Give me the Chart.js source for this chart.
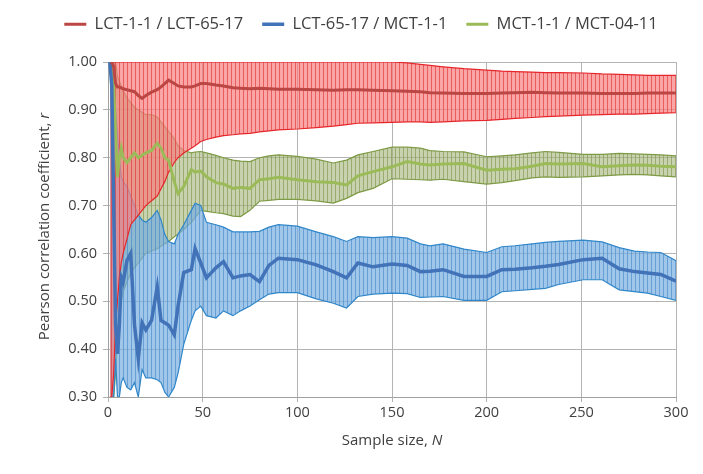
<!DOCTYPE html>
<html lang="en">
<head>
  <meta charset="utf-8">
  <title>Pearson correlation coefficient vs sample size</title>
  <script src="https://cdn.jsdelivr.net/npm/chart.js"></script>
  <style>
    html, body { margin: 0; padding: 0; background: #fff; }
    #wrap { width: 703px; height: 474px; }
  </style>
</head>
<body>
<div id="wrap"><canvas id="corrChart" width="703" height="474"></canvas></div>

<script>
  const sampleSizes = [1, 2, 3, 4, 5, 6, 7, 8, 10, 12, 14, 16, 18, 20, 23, 26, 28, 30, 32, 35, 37, 40,
    44, 46, 49, 52, 57, 61, 66, 70, 75, 80, 85, 90, 100, 110, 119, 126, 132, 140, 150, 158, 165, 170,
    177, 188, 200, 208, 215, 224, 231, 238, 251, 261, 270, 278, 285, 292, 300];

  const seriesNames = ['LCT-1-1 / LCT-65-17', 'LCT-65-17 / MCT-1-1', 'MCT-1-1 / MCT-04-11'];

  // LCT-1-1 / LCT-65-17
  const redMean = [1.0, 1.0, 0.99, 0.955, 0.948, 0.948, 0.946, 0.944, 0.942, 0.94, 0.938, 0.93, 0.924, 0.93,
    0.937, 0.942, 0.948, 0.955, 0.962, 0.955, 0.95, 0.948, 0.948, 0.95, 0.955, 0.955, 0.952, 0.95, 0.946,
    0.945, 0.944, 0.945, 0.944, 0.943, 0.943, 0.942, 0.941, 0.942, 0.942, 0.941, 0.94, 0.939, 0.938, 0.936,
    0.935, 0.934, 0.934, 0.935, 0.936, 0.937, 0.936, 0.935, 0.935, 0.934, 0.934, 0.934, 0.935, 0.935, 0.935];
  const redUpper = [1, 1, 1, 1, 1, 1, 1, 1, 1, 1, 1, 1, 1, 1, 1, 1, 1, 1, 1, 1, 1, 1, 1, 1, 1, 1, 1, 1, 1,
    1, 1, 1, 1, 1, 1, 1, 1, 1, 1, 1, 1, 0.998, 0.995, 0.993, 0.99, 0.986, 0.983, 0.981, 0.98, 0.979, 0.978,
    0.978, 0.977, 0.975, 0.974, 0.973, 0.972, 0.972, 0.972];
  const redLower = [0.3, 0.3, 0.35, 0.45, 0.5, 0.55, 0.58, 0.6, 0.63, 0.66, 0.67, 0.68, 0.69, 0.7, 0.71,
    0.72, 0.735, 0.75, 0.77, 0.79, 0.8, 0.81, 0.82, 0.825, 0.834, 0.838, 0.843, 0.846, 0.848, 0.85, 0.851,
    0.854, 0.856, 0.858, 0.86, 0.863, 0.866, 0.869, 0.872, 0.873, 0.874, 0.875, 0.875, 0.874, 0.875, 0.877,
    0.878, 0.88, 0.882, 0.884, 0.886, 0.887, 0.889, 0.89, 0.891, 0.891, 0.892, 0.893, 0.894];

  // LCT-65-17 / MCT-1-1
  const blueMean = [1.0, 0.95, 0.7, 0.45, 0.39, 0.45, 0.55, 0.54, 0.585, 0.6, 0.45, 0.38, 0.455, 0.44,
    0.46, 0.53, 0.46, 0.455, 0.45, 0.43, 0.49, 0.56, 0.566, 0.61, 0.58, 0.549, 0.57, 0.583, 0.549, 0.553,
    0.556, 0.541, 0.575, 0.59, 0.587, 0.576, 0.562, 0.549, 0.58, 0.572, 0.578, 0.575, 0.562, 0.563, 0.566,
    0.552, 0.552, 0.566, 0.567, 0.57, 0.573, 0.577, 0.587, 0.59, 0.568, 0.562, 0.559, 0.556, 0.542];
  const blueUpper = [1.0, 1.0, 1.0, 0.9, 0.85, 0.8, 0.76, 0.75, 0.74, 0.72, 0.7, 0.68, 0.67, 0.665, 0.675,
    0.69, 0.67, 0.64, 0.625, 0.62, 0.64, 0.66, 0.69, 0.705, 0.7, 0.665, 0.66, 0.655, 0.645, 0.645, 0.645,
    0.646, 0.655, 0.66, 0.657, 0.645, 0.635, 0.625, 0.635, 0.633, 0.635, 0.632, 0.62, 0.616, 0.62, 0.609,
    0.602, 0.614, 0.616, 0.62, 0.623, 0.625, 0.628, 0.624, 0.612, 0.605, 0.603, 0.602, 0.585];
  const blueLower = [0.3, 0.3, 0.3, 0.38, 0.3, 0.3, 0.33, 0.34, 0.32, 0.315, 0.33, 0.3, 0.357, 0.34, 0.34,
    0.336, 0.33, 0.31, 0.3, 0.32, 0.35, 0.41, 0.46, 0.48, 0.49, 0.47, 0.465, 0.48, 0.47, 0.48, 0.49, 0.503,
    0.515, 0.518, 0.518, 0.505, 0.496, 0.486, 0.51, 0.515, 0.517, 0.516, 0.508, 0.509, 0.51, 0.502, 0.502,
    0.52, 0.522, 0.525, 0.527, 0.535, 0.545, 0.545, 0.524, 0.52, 0.517, 0.51, 0.502];

  // MCT-1-1 / MCT-04-11
  const greenMean = [1.0, 1.0, 0.95, 0.85, 0.76, 0.8, 0.82, 0.8, 0.79, 0.8, 0.81, 0.8, 0.805, 0.81, 0.815,
    0.83, 0.82, 0.8, 0.795, 0.75, 0.725, 0.74, 0.775, 0.77, 0.772, 0.76, 0.748, 0.745, 0.736, 0.738, 0.736,
    0.754, 0.756, 0.759, 0.754, 0.75, 0.748, 0.743, 0.762, 0.771, 0.781, 0.792, 0.787, 0.785, 0.787, 0.788,
    0.774, 0.776, 0.777, 0.782, 0.788, 0.787, 0.788, 0.781, 0.783, 0.785, 0.784, 0.782, 0.781];
  const greenUpper = [1.0, 1.0, 1.0, 1.0, 0.97, 0.96, 0.95, 0.94, 0.925, 0.915, 0.905, 0.9, 0.895, 0.89,
    0.89, 0.885, 0.875, 0.865, 0.855, 0.84, 0.825, 0.815, 0.81, 0.812, 0.813, 0.81, 0.805, 0.8, 0.795, 0.793,
    0.792, 0.8, 0.804, 0.806, 0.803, 0.797, 0.789, 0.795, 0.806, 0.813, 0.822, 0.822, 0.82, 0.815, 0.813,
    0.812, 0.802, 0.804, 0.806, 0.81, 0.813, 0.811, 0.807, 0.807, 0.809, 0.808, 0.807, 0.806, 0.804];
  const greenLower = [0.3, 0.3, 0.3, 0.35, 0.42, 0.47, 0.5, 0.52, 0.54, 0.56, 0.57, 0.58, 0.59, 0.6, 0.605,
    0.61, 0.615, 0.62, 0.625, 0.635, 0.64, 0.65, 0.665, 0.675, 0.69, 0.688, 0.685, 0.683, 0.678, 0.677, 0.69,
    0.709, 0.711, 0.713, 0.713, 0.71, 0.705, 0.715, 0.727, 0.736, 0.756, 0.755, 0.754, 0.753, 0.755, 0.75,
    0.745, 0.748, 0.752, 0.758, 0.76, 0.759, 0.76, 0.762, 0.764, 0.765, 0.764, 0.762, 0.76];

  const yTicks = [0.3, 0.4, 0.5, 0.6, 0.7, 0.8, 0.9, 1.0];
  const xTicks = [0, 50, 100, 150, 200, 250, 300];

  const FONT = "'Open Sans', 'DejaVu Sans', sans-serif";
  const TEXT = '#404040';

  function pts(values) {
    return sampleSizes.map((n, i) => ({ x: n, y: values[i] }));
  }

  // vertical stripe pattern to mimic the dense error bars
  function stripes(fill, line) {
    const c = document.createElement('canvas');
    c.width = 4; c.height = 4;
    const g = c.getContext('2d');
    g.fillStyle = fill; g.fillRect(0, 0, 4, 4);
    g.fillStyle = line; g.fillRect(3, 0, 1, 4);
    return g.createPattern(c, 'repeat');
  }

  function edge(data, color) {
    return { data: pts(data), borderColor: color, borderWidth: 1.2, pointRadius: 0, fill: false, order: 2 };
  }
  function band(data, lowerIdx, color, fillPat) {
    return { data: pts(data), borderColor: color, borderWidth: 1.2, pointRadius: 0,
      fill: { target: lowerIdx }, backgroundColor: fillPat, order: 2 };
  }
  function mean(label, data, color, width) {
    return { label: label, data: pts(data), borderColor: color, backgroundColor: color,
      borderWidth: width, pointRadius: 0, fill: false, order: 0 };
  }

  const redFill = stripes('rgba(248,128,128,0.7)', 'rgba(228,70,70,0.75)');
  const blueFill = stripes('rgba(120,175,225,0.7)', 'rgba(85,145,205,0.75)');
  const greenFill = stripes('rgba(165,180,120,0.6)', 'rgba(135,155,85,0.7)');

  const datasets = [
    edge(redLower, '#e6262b'),
    band(redUpper, 0, '#e6262b', redFill),
    edge(blueLower, '#2f86c9'),
    band(blueUpper, 2, '#2f86c9', blueFill),
    edge(greenLower, '#7d9a45'),
    band(greenUpper, 4, '#7d9a45', greenFill),
    mean(seriesNames[0], redMean, '#bb4643', 3),
    mean(seriesNames[1], blueMean, '#4272b8', 3.5),
    mean(seriesNames[2], greenMean, '#9bbb59', 3)
  ];

  // fixed top band for the legend, row nudged into place
  const legendBox = {
    id: 'legendBox',
    beforeInit(chart) {
      const fit = chart.legend.fit;
      chart.legend.fit = function () { fit.bind(chart.legend)(); this.height = 62; };
    },
    afterLayout(chart) {
      chart.legend.top = -3;
      chart.legend.left += 23;
      chart.legend.right += 23;
    }
  };

  // axis titles with italic variable names
  const axisTitles = {
    id: 'axisTitles',
    afterDraw(chart) {
      const ctx = chart.ctx;
      const a = chart.chartArea;
      const reg = "15px " + FONT, ita = "italic 15px " + FONT;
      function mixed(plain, it, cx, cy, rot) {
        ctx.save();
        ctx.translate(cx, cy);
        ctx.rotate(rot);
        ctx.fillStyle = TEXT;
        ctx.textBaseline = 'middle';
        ctx.font = reg; const w1 = ctx.measureText(plain).width;
        ctx.font = ita; const w2 = ctx.measureText(it).width;
        let x = -(w1 + w2) / 2;
        ctx.font = reg; ctx.fillText(plain, x, 0);
        ctx.font = ita; ctx.fillText(it, x + w1, 0);
        ctx.restore();
      }
      mixed('Pearson correlation coefficient, ', 'r', 45, (a.top + a.bottom) / 2 - 3, -Math.PI / 2);
      mixed('Sample size, ', 'N', (a.left + a.right) / 2, 441, 0);
    }
  };

  const ctx = document.getElementById('corrChart').getContext('2d');
  new Chart(ctx, {
    type: 'line',
    data: { datasets: datasets },
    plugins: [legendBox, axisTitles],
    options: {
      responsive: false,
      animation: false,
      layout: { padding: { left: 0, right: 27, top: 0, bottom: 0 } },
      elements: { line: { tension: 0 } },
      scales: {
        x: {
          type: 'linear',
          min: 0, max: 300,
          afterBuildTicks: s => { s.ticks = xTicks.map(v => ({ value: v })); },
          afterFit: s => { s.height = 77; },
          grid: { color: '#b4b4b4', tickLength: 5, drawTicks: true },
          border: { color: '#a0a0a0' },
          ticks: { color: TEXT, font: { family: FONT, size: 14.5 }, padding: 2, maxRotation: 0 }
        },
        y: {
          min: 0.3, max: 1.0,
          afterBuildTicks: s => { s.ticks = yTicks.map(v => ({ value: v })); },
          afterFit: s => { s.width = 108; },
          grid: { color: '#b4b4b4', tickLength: 5 },
          border: { color: '#a0a0a0' },
          ticks: { color: TEXT, font: { family: FONT, size: 14.5 }, padding: 6,
            callback: v => v.toFixed(2) }
        }
      },
      plugins: {
        legend: {
          position: 'top',
          labels: {
            filter: item => item.datasetIndex >= 6,
            usePointStyle: true,
            pointStyle: 'line',
            pointStyleWidth: 22,
            color: TEXT,
            font: { family: FONT, size: 16.5 },
            padding: 19,
            boxHeight: 3
          }
        },
        tooltip: { enabled: false }
      }
    }
  });
</script>
</body>
</html>
